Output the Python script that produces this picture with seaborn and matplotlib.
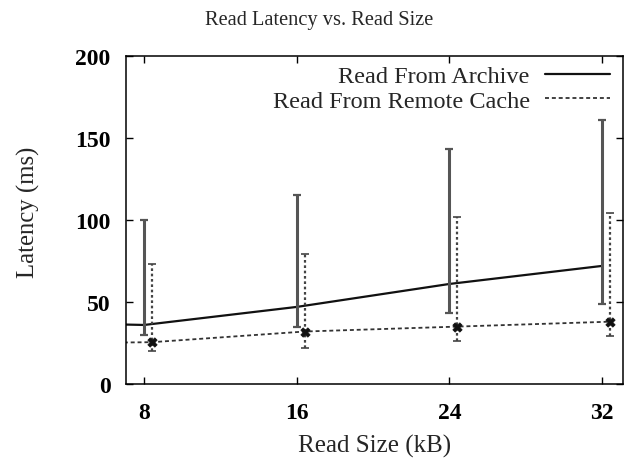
import numpy as np
import pandas as pd
import seaborn as sns
import matplotlib.pyplot as plt

# read sizes (kB); 4 kB lies left of the visible x range
read_size = [4, 8, 16, 24, 32]

archive_mean = [37, 36, 47, 61, 72]
archive_low = [np.nan, 30, 35, 43, 49]
archive_high = [np.nan, 100, 115, 143, 161]

cache_mean = [25, 25.5, 32, 35, 38]
cache_low = [np.nan, 20, 22, 26, 29]
cache_high = [np.nan, 73, 79, 102, 104]

x_ticks = [8, 16, 24, 32]
y_ticks = [0, 50, 100, 150, 200]

archive = pd.DataFrame({"size": read_size, "latency": archive_mean,
                        "low": archive_low, "high": archive_high})
cache = pd.DataFrame({"size": read_size, "latency": cache_mean,
                      "low": cache_low, "high": cache_high})
cache_shift = 0.42  # cache series is drawn slightly right of the tick

sns.set_theme(style="ticks")
plt.rcParams["font.family"] = ["Liberation Serif", "DejaVu Serif"]

fig = plt.figure(figsize=(6.28, 4.6), dpi=100)
ax = fig.add_axes([126 / 628, 75 / 460, 497 / 628, 328 / 460])

sns.lineplot(data=archive, x="size", y="latency", ax=ax, color="#111111",
             linewidth=1.6, label="Read From Archive")
cache_plot = cache.assign(size=cache["size"] + cache_shift)
sns.lineplot(data=cache_plot, x="size", y="latency", ax=ax, color="#333333",
             linewidth=1.3, linestyle=(0, (2.2, 1.6)), label="Read From Remote Cache")

# error bars
a = archive.dropna()
ax.errorbar(a["size"], a["latency"],
            yerr=[a["latency"] - a["low"], a["high"] - a["latency"]],
            fmt="none", ecolor="#555555", elinewidth=2.2, capsize=3, capthick=1.6)
c = cache_plot.dropna()
err2 = ax.errorbar(c["size"], c["latency"],
                   yerr=[c["latency"] - c["low"], c["high"] - c["latency"]],
                   fmt="none", ecolor="#444444", elinewidth=1.6, capsize=3, capthick=1.2)
err2[2][0].set_linestyle((0, (1.2, 1.2)))
sns.scatterplot(x=c["size"], y=c["latency"], ax=ax, marker="X", s=45,
                color="#111111", edgecolor="#111111", zorder=5, legend=False)

ax.set_xlim(7.05, 33.1)
ax.set_ylim(0, 200)
ax.set_xticks(x_ticks)
ax.set_yticks(y_ticks)
ax.tick_params(direction="in", length=5, width=1, top=True, right=True,
               labelsize=17, colors="black")
ax.tick_params(axis="x", pad=13)
ax.tick_params(axis="y", pad=11)
for lab in ax.get_xticklabels() + ax.get_yticklabels():
    lab.set_fontweight("bold")
for s in ax.spines.values():
    s.set_linewidth(1.1)
    s.set_color("black")

ax.set_xlabel("Read Size (kB)", fontsize=18, labelpad=8)
ax.set_ylabel("Latency (ms)", fontsize=17.8)
ax.yaxis.set_label_coords(-0.173, 0.527)
fig.text(319 / 628, 1 - 21 / 460, "Read Latency vs. Read Size", ha="center",
         va="center", fontsize=14.7)

leg = ax.legend(loc="upper right", bbox_to_anchor=(1 - 4 / 497, 1.0),
                frameon=False, fontsize=17.5, markerfirst=False,
                handlelength=2.67, borderaxespad=0.0, labelspacing=0.1,
                handletextpad=0.62, borderpad=0.38)
for t in leg.get_texts():
    t.set_ha("right")

fig.savefig("out.png", dpi=100)
